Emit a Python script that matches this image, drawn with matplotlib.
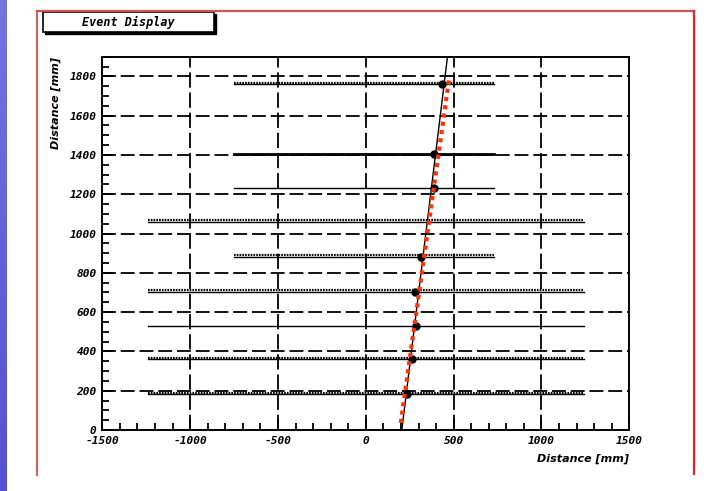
import numpy as np
import matplotlib.pyplot as plt
from matplotlib.patches import Rectangle
from matplotlib.lines import Line2D
from matplotlib.colors import LinearSegmentedColormap

plt.rcParams['lines.scale_dashes'] = False

# detector planes: height (mm), x extent (mm), drawing style
plane_y = [1759, 1403, 1230, 1060, 882, 704, 531, 361, 182]
plane_x0 = [-750, -750, -750, -1240, -750, -1240, -1240, -1240, -1240]
plane_x1 = [730, 730, 730, 1240, 730, 1240, 1240, 1240, 1240]
plane_kind = ['dot', 'thick', 'thin', 'dot', 'dot', 'dot', 'thin', 'dot', 'dot']

# hits found on each plane
hit_x = [433, 389, 389, 313, 279, 285, 262, 233]
hit_y = [1759, 1403, 1230, 882, 704, 531, 361, 182]

# reconstructed track and fitted track
track_x = [205, 465]
track_y = [0, 1900]
fit_x = [199, 474]
fit_y = [36, 1786]

xticks = [-1500, -1000, -500, 0, 500, 1000, 1500]
yticks = [0, 200, 400, 600, 800, 1000, 1200, 1400, 1600, 1800]

W, H = 713, 491
fig = plt.figure(figsize=(W / 100, H / 100), dpi=100)
fig.patch.set_facecolor('white')

# purple strip on the left edge
strip = fig.add_axes([0, 0, 7 / W, 1])
cmap = LinearSegmentedColormap.from_list('strip', ['#7474de', '#5650d0'])
strip.imshow(np.linspace(0, 1, 100).reshape(-1, 1), aspect='auto', cmap=cmap)
strip.axis('off')

# red frame (open at the bottom)
def px(x, y):
    return x / W, 1 - y / H

for (xa, ya), (xb, yb), c in [((37, 475), (37, 11), '#cc6666'),
                              ((37, 11), (694, 11), '#cc5555'),
                              ((694, 11), (694, 474), '#ee2222')]:
    (x0, y0), (x1, y1) = px(xa, ya), px(xb, yb)
    fig.add_artist(Line2D([x0, x1], [y0, y1], color=c, lw=1.6,
                          transform=fig.transFigure))

# title box with shadow
bx, by = px(43, 32)
bw, bh = 171 / W, 20 / H
fig.add_artist(Rectangle((bx + 2 / W, by - 2 / H), bw, bh, transform=fig.transFigure,
                         facecolor='black', edgecolor='black', lw=1))
fig.add_artist(Rectangle((bx, by), bw, bh, transform=fig.transFigure,
                         facecolor='white', edgecolor='black', lw=1.2))
fig.text(bx + bw / 2, by + bh / 2, 'Event Display', ha='center', va='center',
         family='DejaVu Sans Mono', style='italic', weight='bold', fontsize=8.5)

ax = fig.add_axes([102.3 / W, 61 / H, 527 / W, 373.3 / H])
ax.set_xlim(-1500, 1500)
ax.set_ylim(0, 1900)

# dashed grid
for gy in yticks[1:]:
    ax.axhline(gy, color='black', lw=1.3, dashes=(10, 3.5), zorder=1)
for gx in xticks[1:-1]:
    ax.axvline(gx, color='black', lw=1.3, dashes=(11, 3.5), zorder=1)

# planes
for y, a, b, k in zip(plane_y, plane_x0, plane_x1, plane_kind):
    if k == 'thin':
        ax.plot([a, b], [y, y], color='black', lw=1.0, zorder=2)
    elif k == 'thick':
        ax.plot([a, b], [y, y], color='black', lw=2.0, zorder=2)
    else:
        ax.plot([a, b], [y, y], color='black', lw=1.0, zorder=2)
        ax.plot([a, b], [y + 8, y + 8], color='black', lw=1.6,
                dashes=(1.2, 0.8), zorder=2)

ax.plot(track_x, track_y, color='black', lw=1.0, zorder=3)
ax.plot(hit_x, hit_y, 'o', color='black', ms=5, zorder=4)
ax.plot(fit_x, fit_y, color='#ff3300', lw=3.0, dashes=(3, 3),
        dash_capstyle='butt', zorder=5)

for s in ax.spines.values():
    s.set_linewidth(1.4)

ax.set_xticks(xticks)
ax.set_yticks(yticks)
ax.set_xticks(np.arange(-1500, 1501, 100), minor=True)
ax.set_yticks(np.arange(0, 1901, 50), minor=True)
ax.tick_params(which='major', direction='in', length=8, width=1.3, pad=4)
ax.tick_params(which='minor', direction='in', length=5, width=1.3)
tick_font = dict(family='DejaVu Sans Mono', style='italic', weight='bold', size=8)
ax.set_xticklabels([str(t) for t in xticks], fontdict=tick_font)
ax.set_yticklabels([str(t) for t in yticks], fontdict=tick_font)

label_font = dict(family='DejaVu Sans', style='italic', weight='bold', size=8)
ax.set_xlabel('Distance [mm]', loc='right', labelpad=6, **label_font)
ax.set_ylabel('Distance [mm]', loc='top', labelpad=6, **label_font)

fig.savefig('out.png', dpi=100)
